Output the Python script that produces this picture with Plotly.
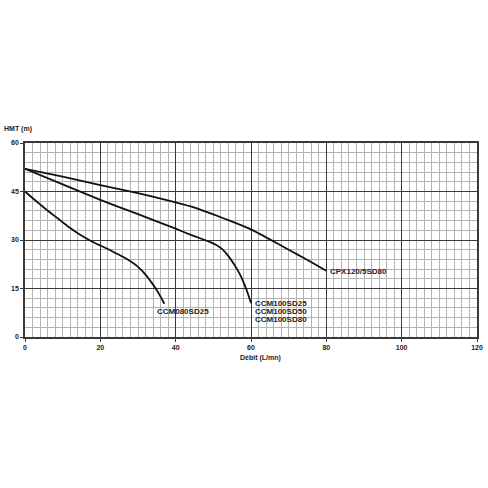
import plotly.graph_objects as go

# ------------------------------------------------------------------
# courbes debit / hauteur
# ------------------------------------------------------------------
cpx_debit = [0, 10, 20, 30, 40, 45, 50, 55, 60, 65, 70, 75, 80]
cpx_hmt = [52, 49.6, 47, 44.5, 41.6, 40, 37.9, 35.7, 33.3, 30.2, 27, 23.8, 20.5]

ccm100_debit = [0, 10, 20, 30, 40, 44, 47, 49, 51, 52.5, 54, 55.5, 57, 58, 59, 60]
ccm100_hmt = [52, 47.2, 42.4, 38, 33.5, 31.6, 30.3, 29.4, 28.3, 27, 25, 22.5, 19.5, 17, 14, 10.5]

ccm080_debit = [0, 2, 4, 6, 8, 10, 12, 14, 16, 18, 20, 22, 24, 26, 28, 30, 32, 34, 35.5, 37]
ccm080_hmt = [45, 43, 41, 39.1, 37.3, 35.5, 33.7, 32.1, 30.7, 29.4, 28.3, 27.2, 26, 24.8,
              23.4, 21.7, 19.3, 16.2, 13.5, 10.3]

x_ticks = [0, 20, 40, 60, 80, 100, 120]
y_ticks = [0, 15, 30, 45, 60]

labels_txt = ["CPX120/5SD80", "CCM100SD25", "CCM100SD50", "CCM100SD80", "CCM080SD25"]
labels_x = [80.5, 60.5, 60.5, 60.5, 34.5]
labels_y = [20.3, 10.5, 7.9, 5.3, 8]

fig = go.Figure()

for xs, ys in [(cpx_debit, cpx_hmt), (ccm100_debit, ccm100_hmt), (ccm080_debit, ccm080_hmt)]:
    fig.add_trace(go.Scatter(x=xs, y=ys, mode="lines",
                             line=dict(color="#111111", width=1.8, shape="spline", smoothing=0.4),
                             showlegend=False, hoverinfo="skip"))

for t, lx, ly in zip(labels_txt, labels_x, labels_y):
    fig.add_annotation(x=lx, y=ly, text="<b>" + t + "</b>", showarrow=False,
                       xanchor="left", yanchor="middle",
                       font=dict(family="Liberation Sans", size=8, color="#222222"))

axis_common = dict(showgrid=True, gridcolor="#3a3a3a", gridwidth=1.3,
                   showline=True, linecolor="#3a3a3a", linewidth=1.6, mirror=True,
                   ticks="outside", ticklen=3, tickcolor="#3a3a3a",
                   tickfont=dict(family="Liberation Sans", size=7, color="#222222"),
                   zeroline=False, fixedrange=True, automargin=False)

fig.update_xaxes(range=[0, 120], tickvals=x_ticks,
                 ticktext=["<b>%d</b>" % v for v in x_ticks],
                 minor=dict(dtick=2, showgrid=True, gridcolor="#b4b4b4", gridwidth=0.8),
                 **axis_common)
fig.update_yaxes(range=[0, 60], tickvals=y_ticks,
                 ticktext=["<b>%d</b>" % v for v in y_ticks],
                 minor=dict(dtick=3, showgrid=True, gridcolor="#b4b4b4", gridwidth=0.8),
                 **axis_common)

fig.add_annotation(xref="paper", yref="paper", x=-0.05, y=1.07, text="<b>HMT (m)</b>",
                   showarrow=False, xanchor="left", yanchor="middle",
                   font=dict(family="Liberation Sans", size=7, color="#222222"))
fig.add_annotation(xref="paper", yref="paper", x=0.522, y=-0.11, text="<b>Débit (L/mn)</b>",
                   showarrow=False, xanchor="center", yanchor="middle",
                   font=dict(family="Liberation Sans", size=7, color="#222222"))

fig.update_layout(width=488, height=488,
                  margin=dict(l=25, r=11, t=143, b=151),
                  plot_bgcolor="white", paper_bgcolor="white")

# pas de marge autour du graphique dans la page
fig.write_html("out.html", config={"displayModeBar": False},
               post_script="document.body.style.margin = '0';")
